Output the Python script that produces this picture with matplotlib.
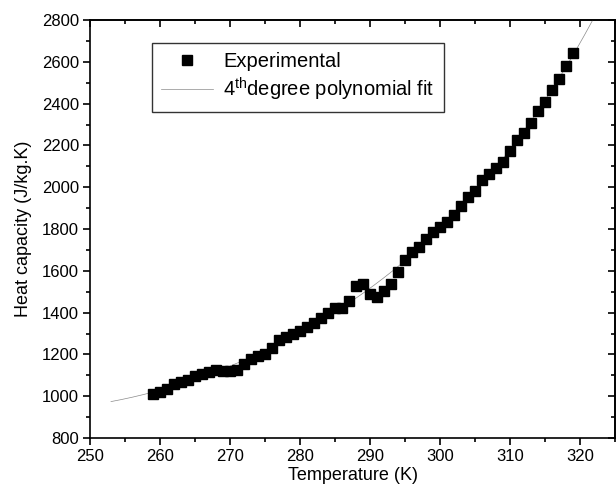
import numpy as np
import matplotlib
matplotlib.use("Agg")
import matplotlib.pyplot as plt
from matplotlib.ticker import MultipleLocator

plt.rcParams['font.family'] = ['Liberation Sans', 'DejaVu Sans']
plt.rcParams['mathtext.fontset'] = 'custom'
plt.rcParams['mathtext.rm'] = 'Liberation Sans'

# experimental points
temperature = [259, 260, 261, 262, 263, 264, 265, 266, 267, 268,
               269, 270, 271, 272, 273, 274, 275, 276, 277, 278,
               279, 280, 281, 282, 283, 284, 285, 286, 287, 288,
               289, 290, 291, 292, 293, 294, 295, 296, 297, 298,
               299, 300, 301, 302, 303, 304, 305, 306, 307, 308,
               309, 310, 311, 312, 313, 314, 315, 316, 317, 318, 319]
heat_capacity = [1010, 1021, 1036, 1059, 1069, 1078, 1096, 1107, 1117, 1123,
                 1121, 1121, 1123, 1153, 1180, 1192, 1203, 1230, 1267, 1281,
                 1297, 1313, 1332, 1350, 1372, 1396, 1422, 1421, 1456, 1529,
                 1537, 1489, 1475, 1502, 1537, 1596, 1654, 1692, 1715, 1750,
                 1784, 1808, 1834, 1868, 1912, 1951, 1983, 2034, 2062, 2093,
                 2122, 2174, 2228, 2261, 2306, 2365, 2408, 2467, 2517, 2578, 2642]
fit_range = [253, 323]

x_ticks = [250, 260, 270, 280, 290, 300, 310, 320]
y_ticks = [800, 1000, 1200, 1400, 1600, 1800, 2000, 2200, 2400, 2600, 2800]

# 4th degree polynomial fit of the points
coef = np.polyfit(temperature, heat_capacity, 4)
t_fit = np.linspace(fit_range[0], fit_range[1], 300)
c_fit = np.polyval(coef, t_fit)

fig = plt.figure(figsize=(6.16, 4.95), dpi=100)
ax = fig.add_axes([90 / 616, 57 / 495, 525 / 616, 418 / 495])

ax.plot(t_fit, c_fit, color='#8a8a8a', lw=0.5, label=r'$4^{\rm th}$degree polynomial fit', zorder=2)
ax.plot(temperature, heat_capacity, 's', color='black', ms=6.5, label='Experimental', zorder=3)

ax.set_xlim(250, 325)
ax.set_ylim(800, 2800)
ax.set_xticks(x_ticks)
ax.set_yticks(y_ticks)
ax.xaxis.set_minor_locator(MultipleLocator(5))
ax.yaxis.set_minor_locator(MultipleLocator(100))
ax.tick_params(which='major', direction='out', length=5, width=1.2, labelsize=12, pad=3)
ax.tick_params(which='minor', direction='out', length=3, width=1.2)
for s in ax.spines.values():
    s.set_linewidth(1.2)

# top / right ticks point inward
top = ax.secondary_xaxis('top')
top.set_xticks(x_ticks)
top.xaxis.set_minor_locator(MultipleLocator(5))
top.tick_params(which='major', direction='in', length=5, width=1.2, labeltop=False)
top.tick_params(which='minor', direction='in', length=3, width=1.2)
right = ax.secondary_yaxis('right')
right.set_yticks(y_ticks)
right.yaxis.set_minor_locator(MultipleLocator(100))
right.tick_params(which='major', direction='in', length=5, width=1.2, labelright=False)
right.tick_params(which='minor', direction='in', length=3, width=1.2)
top.spines['top'].set_linewidth(1.2)
right.spines['right'].set_linewidth(1.2)

ax.set_xlabel('Temperature (K)', fontsize=13, labelpad=2)
ax.set_ylabel('Heat capacity (J/kg.K)', fontsize=13, labelpad=7)

handles, labels = ax.get_legend_handles_labels()
leg = ax.legend(handles[::-1], labels[::-1], loc='upper left', bbox_to_anchor=(0.118, 0.944),
                fontsize=14.5, frameon=True, fancybox=False, edgecolor='black',
                handlelength=2.6, handletextpad=0.5, borderpad=0.45, labelspacing=0.2,
                borderaxespad=0)
leg.get_frame().set_linewidth(1.0)

fig.savefig('out.png', dpi=100)
